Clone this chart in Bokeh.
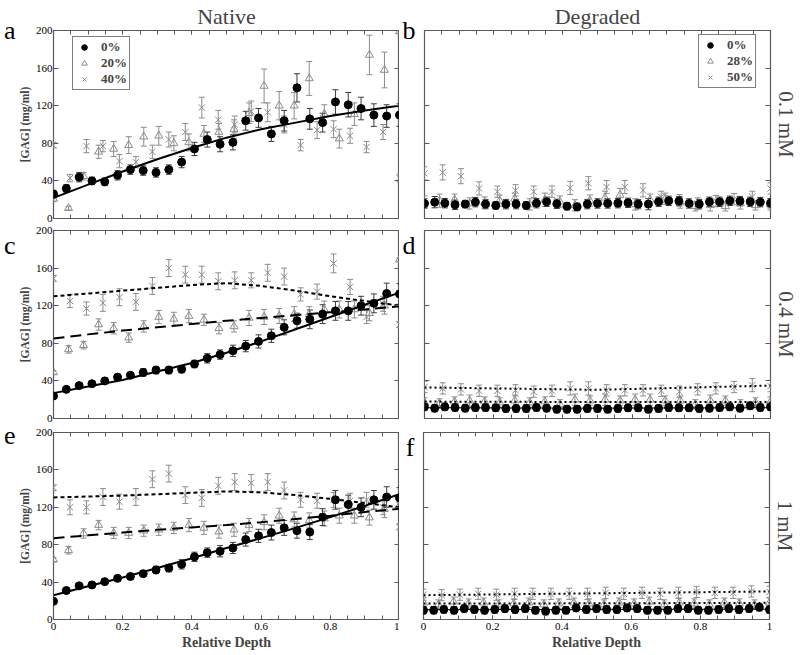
import numpy as np
from bokeh.plotting import figure
from bokeh.models import (Range1d, LinearAxis, Whisker, TeeHead, ColumnDataSource,
                          Legend, LegendItem, FixedTicker)
from bokeh.layouts import column, row
from bokeh.embed import file_html
from bokeh.resources import INLINE

# ---------------- data ----------------
x_ticks = [0, 0.2, 0.4, 0.6, 0.8, 1]
x_tick_labels = ["0", "0.2", "0.4", "0.6", "0.8", "1"]
x_minor_ticks = [0, 0.05, 0.1, 0.15, 0.2, 0.25, 0.3, 0.35, 0.4, 0.45, 0.5,
                 0.55, 0.6, 0.65, 0.7, 0.75, 0.8, 0.85, 0.9, 0.95, 1]
y_ticks = [0, 40, 80, 120, 160, 200]

col_titles = ["Native", "Degraded"]
row_labels = ["0.1 mM", "0.4 mM", "1 mM"]
panel_letters = ["a", "b", "c", "d", "e", "f"]
y_title = "[GAG] (mg/ml)"
x_title = "Relative Depth"
native_legend = ["0%", "20%", "40%"]
degraded_legend = ["0%", "28%", "50%"]

# depth sampling of each series
depth_28 = np.linspace(0, 1, 28)
depth_24 = np.linspace(0, 1, 24)
depth_22 = np.linspace(0, 1, 22)
depth_35 = np.linspace(0, 1, 35)
depth_20 = np.linspace(0, 1, 20)
fit_depth = [0, 0.1, 0.2, 0.3, 0.4, 0.5, 0.6, 0.7, 0.8, 0.9, 1]
deg_fit_depth = [0, 0.5, 1]

# panel a (native, 0.1 mM)
a_0 = [26, 32, 44, 40, 39, 46, 52, 51, 49, 52, 60, 74, 84, 79, 81, 104, 107, 90, 104, 139, 106, 102, 124, 121, 117, 110, 109, 110]
a_0_err = [4, 4, 5, 4, 4, 5, 5, 5, 5, 5, 6, 7, 8, 8, 8, 10, 10, 8, 11, 15, 11, 10, 13, 13, 12, 12, 12, 12]
a_20 = [21, 11, 45, 71, 74, 78, 87, 88, 80, 81, 90, 92, 95, 112, 141, 120, 120, 149, 111, 85, 111, 174, 158, 199]
a_20_err = [3, 2, 4, 7, 8, 9, 10, 10, 8, 9, 9, 9, 10, 11, 18, 15, 14, 18, 10, 10, 12, 21, 19, 2]
a_40 = [78, 43, 77, 77, 61, 60, 71, 84, 92, 118, 105, 100, 114, 113, 100, 78, 94, 95, 88, 76, 92, 43]
a_40_err = [3, 4, 7, 6, 7, 6, 7, 8, 9, 11, 10, 9, 11, 10, 9, 6, 9, 9, 8, 6, 8, 4]
a_fit_0 = [22, 36, 50, 63, 75, 86, 95, 102, 109, 115, 120]

# panel c (native, 0.4 mM)
c_0 = [24, 31, 35, 37, 40, 44, 46, 49, 51.5, 51.5, 52.5, 58, 64, 68, 72, 77, 82, 88, 97, 104, 105.5, 111, 114.5, 114.5, 120, 122.5, 133, 132.5]
c_0_err = [2, 2, 3, 3, 3, 3, 3, 4, 4, 4, 4, 4, 5, 5, 6, 6, 7, 7, 8, 8, 10, 10, 10, 10, 10, 10, 11, 11]
c_20 = [49, 73.5, 78, 100, 96, 86, 98, 108, 106, 109, 105, 96, 98, 107, 108, 109, 111, 111, 116, 116, 116, 112, 120, 169]
c_20_err = [2, 4, 4, 6, 6, 5, 6, 7, 7, 7, 6, 6, 6, 8, 8, 8, 8, 8, 9, 9, 9, 8, 9, 2]
c_40 = [149, 125, 117, 123, 129, 124, 141, 160, 153, 153, 146, 147, 147, 155, 151, 132, 135, 165, 140, 108, 122, 100]
c_40_err = [3, 7, 7, 9, 9, 9, 9, 9, 9, 9, 9, 9, 8, 9, 9, 7, 8, 10, 8, 7, 8, 3]
c_fit_0 = [27, 34, 41, 50, 59, 70, 82, 95, 108, 121, 134]
c_fit_20 = [85, 89.5, 93.5, 97, 100.5, 104, 107, 110, 113, 116, 119.5]
c_fit_40 = [130, 133, 136, 139, 142, 144, 141, 136, 130, 125, 120]

# panel e (native, 1 mM)
e_0 = [19.5, 31, 36, 37, 40.5, 44, 46, 49, 53, 55, 59, 67, 71.5, 73, 76.5, 85.5, 89.5, 93, 98, 95, 93.5, 109.5, 128, 123, 120, 128, 131, 130]
e_0_err = [2, 2, 2, 2, 3, 3, 3, 3, 4, 4, 5, 5, 5, 6, 6, 7, 7, 8, 8, 8, 8, 9, 10, 10, 10, 10, 11, 11]
e_20 = [64, 74, 92, 101, 92.5, 92.5, 95, 96, 98, 101, 98, 94, 96, 101, 104, 111, 107, 106, 108, 111, 111, 109, 118, 122]
e_20_err = [2, 4, 5, 5, 6, 6, 6, 6, 6, 7, 7, 7, 7, 7, 8, 8, 8, 8, 8, 8, 8, 8, 9, 3]
e_40 = [141, 120, 120, 131, 126, 131, 150, 156, 133, 130, 143, 147, 146, 147, 138, 128, 127, 128, 127, 128, 120, 99]
e_40_err = [3, 8, 7, 9, 8, 9, 9, 9, 9, 9, 9, 9, 9, 9, 9, 8, 8, 8, 8, 8, 8, 3]
e_fit_0 = [26, 35.5, 45, 55, 65.5, 76.5, 87, 98, 109.5, 121.5, 134]
e_fit_20 = [87, 90, 93, 96, 98.5, 101, 104, 107.5, 111, 115, 118.5]
e_fit_40 = [130.5, 131.5, 132.5, 134, 135.5, 137, 136, 133, 129, 124.5, 120]

# panel b (degraded, 0.1 mM)
b_0 = [16, 17.4, 16.3, 14.6, 15.3, 17.4, 15.3, 13.9, 15.3, 15.3, 13.9, 16.3, 17.8, 15.6, 13.1, 12.4, 15.3, 16, 16,
       16.3, 16.7, 15.3, 15.3, 17.8, 18.8, 18.5, 16, 15.3, 17.8, 17.8, 18.8, 18.5, 17.8, 17.4, 16.3]
b_0_err = [5, 6, 5, 5, 4, 5, 5, 4, 5, 5, 4, 5, 5, 5, 4, 4, 5, 5, 5, 5, 5, 5, 6, 5, 5, 5, 5, 5, 5, 5, 5, 5, 5, 5, 5]
b_28 = [18, 19, 20, 16, 17, 19, 21, 15, 20, 18, 14, 19, 22, 25, 15, 20, 21, 17, 13, 14, 13, 16, 14, 15]
b_28_err = [6, 7, 6, 6, 6, 6, 6, 6, 7, 6, 6, 6, 7, 7, 6, 6, 6, 6, 5, 6, 5, 6, 5, 6]
b_50 = [48, 49, 45, 32, 28.5, 30, 28.5, 28.5, 32.5, 37.5, 33.5, 33.5, 30, 23, 19.5, 16, 18.5, 20.5, 23, 32]
b_50_err = [7, 8, 8, 7, 6, 6, 6, 6, 7, 7, 7, 7, 7, 6, 6, 6, 6, 6, 6, 6]

# panel d (degraded, 0.4 mM)
d_0 = [12.4, 11.0, 12.4, 11.7, 11.0, 11.7, 11.7, 11.4, 10.7, 10.7, 10.7, 11.7, 11.0, 9.9, 9.9, 9.9, 10.7, 10.7,
       9.9, 10.7, 11.4, 11.4, 9.9, 10.7, 11.7, 11.4, 11.4, 10.7, 11.0, 11.7, 12.4, 11.0, 13.5, 11.7, 12.4]
d_0_err = [4, 4, 4, 4, 4, 4, 4, 4, 4, 4, 4, 4, 4, 4, 4, 4, 4, 4, 4, 4, 4, 4, 4, 4, 4, 4, 4, 4, 4, 4, 4, 4, 4, 4, 4]
d_28 = [17, 16, 18, 19, 18, 17, 19, 17, 18, 15, 20, 19, 20, 19, 20, 20, 19, 19, 15, 19, 19, 15, 17, 18]
d_28_err = [5, 5, 5, 6, 5, 5, 6, 5, 5, 5, 6, 5, 6, 5, 6, 6, 5, 5, 5, 6, 5, 5, 5, 5]
d_50 = [33.5, 32, 31, 29.5, 29.5, 30, 28.5, 29.5, 32, 32, 30, 30, 30, 29.5, 28.5, 31, 32, 33.5, 35.5, 34.5]
d_50_err = [6, 6, 6, 6, 6, 6, 6, 6, 7, 7, 6, 6, 6, 6, 6, 6, 6, 6, 7, 6]
d_fit_0 = [11.5, 11, 11.5]
d_fit_28 = [18, 17.5, 17.5]
d_fit_50 = [33, 30.5, 35]

# panel f (degraded, 1 mM)
f_0 = [9.9, 9.9, 10.7, 9.9, 11.7, 10.7, 9.9, 10.7, 11.7, 10.7, 11.7, 9.9, 8.9, 9.9, 9.9, 12.4, 10.7, 11.7,
       10.7, 10.7, 12.4, 11.7, 9.9, 9.9, 9.9, 11.7, 11.7, 9.9, 9.9, 10.7, 11.7, 10.7, 11.7, 13.1, 10.7]
f_0_err = [4, 4, 4, 4, 4, 4, 4, 4, 4, 4, 4, 4, 4, 4, 4, 4, 4, 4, 4, 4, 4, 4, 4, 4, 4, 4, 4, 4, 4, 4, 4, 4, 4, 4, 4]
f_28 = [18, 16, 19, 17, 18, 16, 17, 18, 16, 17, 18, 17, 16, 18, 17, 19, 16, 18, 17, 16, 18, 17, 16, 18]
f_28_err = [5, 5, 5, 5, 5, 5, 5, 5, 5, 5, 5, 5, 5, 5, 5, 5, 5, 5, 5, 5, 5, 5, 5, 5]
f_50 = [26.5, 26, 26.5, 27.5, 26.5, 27.5, 27.5, 27.5, 27.5, 27.5, 28.5, 27.5, 28.5, 27.5, 28.5, 29.5, 28.5, 28.5, 30, 29.5]
f_50_err = [6, 6, 6, 6, 6, 6, 6, 6, 6, 6, 6, 6, 6, 6, 6, 6, 6, 6, 6, 6]
f_fit_0 = [10.5, 10.8, 11]
f_fit_28 = [17, 17.3, 17.8]
f_fit_50 = [26, 28, 30]

# ---------------- style / layout ----------------
SERIF = "Liberation Serif"
GRAY = "#8c8c8c"
DARK = "#3c3c3c"
FRAME = "#5a5a5a"
FRAME_W = 346
ROWS = [dict(top=29, frame=188, bottom=5),
        dict(top=7, frame=188, bottom=7),
        dict(top=7, frame=187, bottom=32)]

STYLES = {
    "dot": dict(marker="circle", size=8, fill_color="black", line_color="black", err=DARK),
    "tri": dict(marker="triangle", size=8, fill_color=None, line_color=GRAY, err=GRAY),
    "x": dict(marker="x", size=9, fill_color=None, line_color=GRAY, err=GRAY),
}


def hide_labels(ax):
    ax.major_label_text_font_size = "0px"
    ax.major_label_text_color = None
    ax.major_label_standoff = 0


def make_fig(col, r):
    cfg = ROWS[r]
    p = figure(frame_width=FRAME_W, frame_height=cfg["frame"],
               x_range=Range1d(0, 1), y_range=Range1d(0, 200),
               x_axis_location=None, y_axis_location=None,
               toolbar_location=None, output_backend="svg",
               min_border_left=49 if col == 0 else 24,
               min_border_right=0 if col == 0 else 29,
               min_border_top=cfg["top"], min_border_bottom=cfg["bottom"])
    p.grid.grid_line_color = None
    p.outline_line_color = FRAME
    p.outline_line_width = 1.2
    p.background_fill_color = "white"
    p.border_fill_color = "white"

    common = dict(axis_line_color=None, major_tick_out=0, minor_tick_out=0,
                  major_tick_line_color=FRAME, minor_tick_line_color=FRAME)

    for side in ("below", "above"):
        ax = LinearAxis(ticker=FixedTicker(ticks=x_ticks, minor_ticks=x_minor_ticks),
                        major_tick_in=4, minor_tick_in=4, **common)
        if side == "below" and r == 2:
            ax.major_label_overrides = dict(zip(x_ticks, x_tick_labels))
            ax.major_label_text_font = SERIF
            ax.major_label_text_font_size = "11px"
            ax.major_label_text_color = "black"
            ax.major_label_standoff = 3
            ax.axis_label = x_title
            ax.axis_label_text_font = SERIF
            ax.axis_label_text_font_style = "bold"
            ax.axis_label_text_font_size = "14px"
            ax.axis_label_standoff = 2
        else:
            hide_labels(ax)
            if side == "above" and r == 0:
                ax.axis_label = col_titles[col]
                ax.axis_label_text_font = SERIF
                ax.axis_label_text_font_style = "normal"
                ax.axis_label_text_font_size = "22px"
                ax.axis_label_standoff = 2
        p.add_layout(ax, side)

    for side in ("left", "right"):
        ax = LinearAxis(ticker=FixedTicker(ticks=y_ticks, minor_ticks=[]),
                        major_tick_in=5, minor_tick_in=0, **common)
        if side == "left" and col == 0:
            ax.major_label_text_font = SERIF
            ax.major_label_text_font_size = "11px"
            ax.major_label_text_color = "black"
            ax.major_label_standoff = 1
            ax.axis_label = y_title
            ax.axis_label_text_font = SERIF
            ax.axis_label_text_font_style = "bold"
            ax.axis_label_text_font_size = "11.5px"
            ax.axis_label_standoff = 2
        else:
            hide_labels(ax)
            if side == "right" and col == 1:
                ax.axis_label = row_labels[r]
                ax.axis_label_text_font = SERIF
                ax.axis_label_text_font_style = "normal"
                ax.axis_label_text_font_size = "21px"
                ax.axis_label_standoff = 3
        p.add_layout(ax, side)

    # panel letter: a label-only axis stacked outside the left axis, at the top tick
    tick_val = 200
    lax = LinearAxis(ticker=FixedTicker(ticks=[tick_val], minor_ticks=[]),
                     axis_line_color=None,
                     major_tick_line_color=None, major_tick_in=0, major_tick_out=0,
                     minor_tick_line_color=None, minor_tick_in=0, minor_tick_out=0,
                     major_label_overrides={tick_val: panel_letters[2 * r + col]},
                     major_label_text_font=SERIF, major_label_text_font_size="26px",
                     major_label_text_color="black",
                     major_label_standoff=0 if col == 0 else 9)
    p.add_layout(lax, "left")
    return p


def add_points(p, xs, ys, errs, kind):
    st = STYLES[kind]
    ys = np.asarray(ys, dtype=float)
    errs = np.asarray(errs, dtype=float)
    src = ColumnDataSource(dict(x=xs, y=ys, lo=ys - errs, hi=ys + errs))
    w = Whisker(source=src, base="x", lower="lo", upper="hi", dimension="height",
                line_color=st["err"], line_width=1, level="underlay",
                upper_head=TeeHead(size=6, line_color=st["err"], line_width=1),
                lower_head=TeeHead(size=6, line_color=st["err"], line_width=1))
    p.add_layout(w)
    return p.scatter("x", "y", source=src, marker=st["marker"], size=st["size"],
                     fill_color=st["fill_color"], line_color=st["line_color"], line_width=1)


def add_fit(p, xs, ys, dash, width=2):
    p.line(xs, ys, line_color="black", line_width=width, line_dash=dash)


def add_legend(p, renderers, labels, loc):
    leg = Legend(items=[LegendItem(label=l, renderers=[r]) for l, r in zip(labels, renderers)],
                 location=loc, margin=0, padding=2, spacing=0,
                 glyph_height=14, glyph_width=18, label_height=14, label_standoff=8,
                 label_text_font=SERIF, label_text_font_style="bold", label_text_font_size="13px",
                 border_line_color="black", border_line_width=1, background_fill_color="white",
                 background_fill_alpha=1)
    p.add_layout(leg)


native = [(a_0, a_0_err, a_20, a_20_err, a_40, a_40_err),
          (c_0, c_0_err, c_20, c_20_err, c_40, c_40_err),
          (e_0, e_0_err, e_20, e_20_err, e_40, e_40_err)]
native_fits = [(a_fit_0, None, None), (c_fit_0, c_fit_20, c_fit_40), (e_fit_0, e_fit_20, e_fit_40)]
degraded = [(b_0, b_0_err, b_28, b_28_err, b_50, b_50_err),
            (d_0, d_0_err, d_28, d_28_err, d_50, d_50_err),
            (f_0, f_0_err, f_28, f_28_err, f_50, f_50_err)]
degraded_fits = [(None, None, None), (d_fit_0, d_fit_28, d_fit_50), (f_fit_0, f_fit_28, f_fit_50)]

rows = []
for r in range(3):
    pn = make_fig(0, r)
    y0, e0, y20, e20, y40, e40 = native[r]
    rx = add_points(pn, depth_22, y40, e40, "x")
    rt = add_points(pn, depth_24, y20, e20, "tri")
    rd = add_points(pn, depth_28, y0, e0, "dot")
    f0, f20, f40 = native_fits[r]
    if f40 is not None:
        add_fit(pn, fit_depth, f40, "4 3")
    if f20 is not None:
        add_fit(pn, fit_depth, f20, "11 6")
    add_fit(pn, fit_depth, f0, "solid")
    if r == 0:
        add_legend(pn, [rd, rt, rx], native_legend, (19, 128))

    pdg = make_fig(1, r)
    y0, e0, y28, e28, y50, e50 = degraded[r]
    rx = add_points(pdg, depth_20, y50, e50, "x")
    rt = add_points(pdg, depth_24, y28, e28, "tri")
    rd = add_points(pdg, depth_35, y0, e0, "dot")
    g0, g28, g50 = degraded_fits[r]
    if g0 is not None:
        add_fit(pdg, deg_fit_depth, g0, "solid", 1)
        add_fit(pdg, deg_fit_depth, g28, "2 3")
        add_fit(pdg, deg_fit_depth, g50, "2 3")
    if r == 0:
        add_legend(pdg, [rd, rt, rx], degraded_legend, (274, 130))

    rows.append(row(pn, pdg))

layout = column(*rows)
open("out.html", "w").write(file_html(layout, INLINE))
